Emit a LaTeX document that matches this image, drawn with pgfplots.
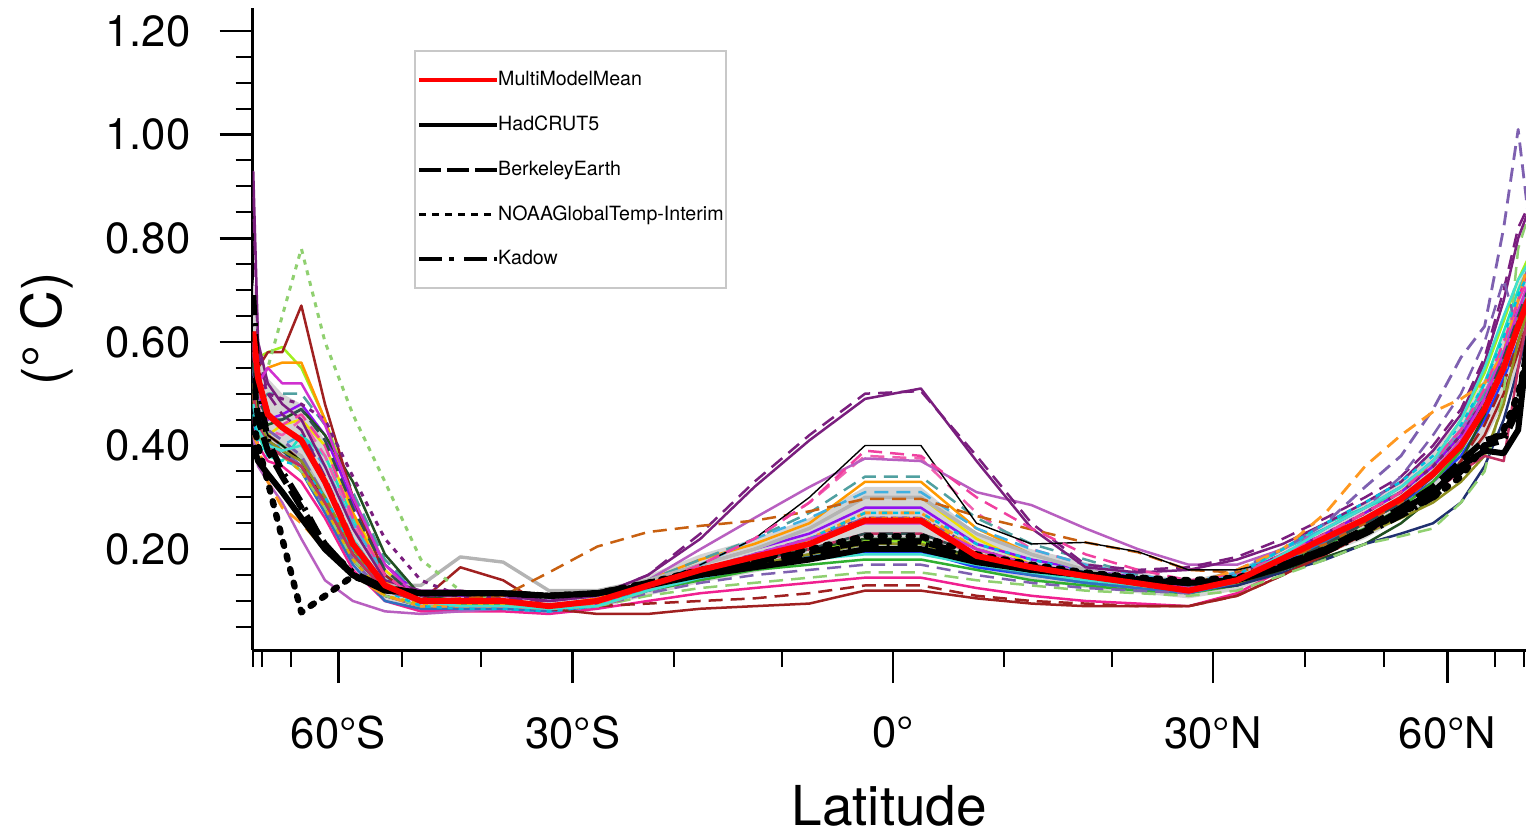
\documentclass[border=0pt]{standalone}
\usepackage{fontspec}
\setmainfont{TeX Gyre Heros}
\usepackage{pgfplots}
\usepackage{pgfplotstable}
\pgfplotsset{compat=1.18}
\usepgfplotslibrary{fillbetween}

\definecolor{c01}{HTML}{1E3CFF}
\definecolor{c02}{HTML}{20E0C0}
\definecolor{c03}{HTML}{A0F020}
\definecolor{c04}{HTML}{F0E000}
\definecolor{c05}{HTML}{FF9900}
\definecolor{c06}{HTML}{F02090}
\definecolor{c07}{HTML}{F060B0}
\definecolor{c08}{HTML}{B85FC0}
\definecolor{c09}{HTML}{9010F0}
\definecolor{c10}{HTML}{50A0A0}
\definecolor{c11}{HTML}{B4B4B4}
\definecolor{c12}{HTML}{40B0E0}
\definecolor{c13}{HTML}{30B030}
\definecolor{c14}{HTML}{205020}
\definecolor{c15}{HTML}{203070}
\definecolor{c16}{HTML}{3070C0}
\definecolor{c17}{HTML}{A02020}
\definecolor{c19}{HTML}{90D070}
\definecolor{c21}{HTML}{7A1E7E}
\definecolor{c24}{HTML}{7E60B0}
\definecolor{c26}{HTML}{C86010}
\definecolor{c27}{HTML}{FF9820}
\definecolor{c29}{HTML}{F040A0}
\definecolor{c30}{HTML}{E0B000}
\definecolor{c31}{HTML}{909020}
\definecolor{c32}{HTML}{00C0E0}
\definecolor{c33}{HTML}{C03060}
\definecolor{c34}{HTML}{D030D0}
\definecolor{c35}{HTML}{40E0D0}
\definecolor{c36}{HTML}{2F4F4F}
\definecolor{legbox}{HTML}{C8C8C8}

% rows = series, columns = latitude (5 degree bands)
\pgfplotstableread{
name -87.5 -82.5 -77.5 -72.5 -67.5 -62.5 -57.5 -52.5 -47.5 -42.5 -37.5 -32.5 -27.5 -22.5 -17.5 -12.5 -7.5 -2.5 2.5 7.5 12.5 17.5 22.5 27.5 32.5 37.5 42.5 47.5 52.5 57.5 62.5 67.5 72.5 77.5 82.5 87.5
lo   .52 .45 .40 .38 .35 .27  .17 .10 .085 .085 .085 .08  .085 .11 .135 .155 .175 .20  .20 .16 .14 .125 .115 .105  .12 .16 .19 .22 .26 .30  .35 .41 .48 .55 .60 .62
hi   .72 .61 .53 .50 .48 .41  .27 .16 .12 .12 .115 .105  .115 .15 .19 .22 .26 .32  .32 .23 .20 .175 .155 .14  .16 .205 .25 .29 .335 .39  .45 .53 .62 .71 .76 .78
}\bandraw
\pgfplotstableread{
name -87.5 -82.5 -77.5 -72.5 -67.5 -62.5 -57.5 -52.5 -47.5 -42.5 -37.5 -32.5 -27.5 -22.5 -17.5 -12.5 -7.5 -2.5 2.5 7.5 12.5 17.5 22.5 27.5 32.5 37.5 42.5 47.5 52.5 57.5 62.5 67.5 72.5 77.5 82.5 87.5
mmm  .62 .53 .46 .435 .41 .33  .21 .13 .10 .10 .10 .09  .10 .13 .16 .185 .21 .255  .255 .187 .165 .148 .134 .12  .14 .182 .222 .258 .297 .345  .40 .47 .55 .63 .68 .70
had  .40 .37 .345 .31 .26 .20  .15 .12 .115 .115 .115 .11  .115 .13 .15 .165 .18 .20  .20 .175 .16 .15 .14 .135  .14 .165 .195 .235 .275 .31  .36 .39 .385 .43 .60 .65
ber  .53 .45 .39 .34 .28 .21  .15 .125 .115 .115 .115 .11  .115 .135 .155 .175 .195 .215  .215 .185 .165 .152 .142 .135  .142 .17 .20 .24 .28 .32  .37 .41 .42 .48 .60 .66
noa  .45 .40 .33 .22 .078 .11  .148 .125 .115 .115 .115 .11  .115 .135 .16 .18 .20 .225  .225 .19 .17 .155 .145 .14  .145 .17 .20 .235 .27 .30  .34 .40 .43 .50 .58 .62
kad  .69 .52 .41 .35 .29 .206  .155 .125 .115 .115 .115 .11  .115 .13 .155 .17 .19 .21  .21 .18 .16 .15 .14 .135  .14 .165 .195 .23 .265 .30  .35 .40 .41 .47 .58 .60
}\obsraw
\pgfplotstableread{
name -87.5 -82.5 -77.5 -72.5 -67.5 -62.5 -57.5 -52.5 -47.5 -42.5 -37.5 -32.5 -27.5 -22.5 -17.5 -12.5 -7.5 -2.5 2.5 7.5 12.5 17.5 22.5 27.5 32.5 37.5 42.5 47.5 52.5 57.5 62.5 67.5 72.5 77.5 82.5 87.5
m01 .55 .45 .40 .38 .36 .28  .18 .11 .09 .09 .09 .085  .095 .12 .145 .165 .18 .195  .195 .165 .15 .135 .125 .115  .135 .175 .215 .25 .29 .33  .38 .45 .53 .60 .66 .68
m02 .50 .42 .38 .37 .42 .38  .26 .15 .10 .095 .095 .09  .10 .125 .15 .17 .185 .20  .20 .18 .16 .145 .135 .13  .15 .20 .25 .28 .31 .36  .43 .52 .62 .70 .74 .75
m03 .58 .57 .58 .59 .55 .45  .30 .17 .11 .10 .10 .09  .10 .13 .16 .18 .20 .215  .215 .18 .16 .145 .135 .125  .145 .19 .23 .27 .31 .37  .45 .54 .64 .72 .76 .78
m04 .52 .46 .42 .44 .45 .40  .27 .16 .10 .10 .10 .09  .10 .135 .17 .20 .24 .30  .30 .22 .17 .15 .13 .12  .14 .18 .22 .26 .30 .35  .41 .48 .56 .63 .68 .70
m05 .48 .52 .55 .56 .56 .45  .27 .14 .10 .095 .10 .09  .105 .14 .18 .21 .25 .33  .33 .24 .19 .16 .14 .13  .15 .19 .23 .27 .31 .36  .42 .49 .57 .65 .70 .72
m06 .45 .40 .37 .36 .33 .26  .16 .10 .08 .08 .08 .075  .085 .10 .115 .125 .135 .145  .145 .125 .11 .10 .095 .09  .115 .16 .20 .24 .28 .33  .39 .48 .58 .68 .74 .76
m07 .58 .48 .43 .42 .45 .38  .25 .14 .09 .09 .09 .085  .095 .13 .17 .22 .29 .38  .375 .27 .20 .17 .15 .13  .15 .19 .23 .27 .31 .36  .42 .50 .58 .65 .70 .72
m08 .42 .36 .33 .29 .22 .14  .10 .08 .075 .08 .085 .085  .10 .14 .20 .26 .32 .375  .37 .31 .285 .24 .20 .17  .17 .20 .24 .28 .32 .37  .43 .50 .58 .66 .70 .72
m09 .60 .50 .45 .46 .48 .42  .29 .17 .11 .11 .11 .10  .11 .14 .17 .20 .23 .28  .28 .21 .18 .16 .145 .13  .15 .19 .23 .27 .31 .36  .42 .49 .57 .64 .69 .71
m10 .55 .48 .50 .50 .50 .44  .31 .18 .11 .10 .10 .09  .10 .14 .18 .22 .27 .34  .34 .26 .21 .18 .15 .135  .15 .20 .24 .28 .32 .37  .43 .50 .58 .65 .70 .72
m11 .50 .45 .42 .40 .38 .30  .20 .13 .13 .185 .175 .12  .12 .14 .17 .20 .24 .30  .30 .23 .19 .16 .14 .13  .15 .185 .22 .26 .30 .35  .40 .47 .55 .62 .67 .69
m12 .48 .42 .40 .40 .42 .36  .25 .15 .09 .085 .085 .08  .09 .13 .17 .22 .26 .31  .31 .24 .20 .17 .15 .135  .155 .20 .24 .28 .32 .37  .43 .51 .59 .66 .70 .72
m13 .56 .47 .42 .40 .37 .30  .19 .12 .10 .095 .095 .09  .10 .12 .14 .16 .17 .18  .18 .16 .14 .13 .12 .115  .13 .17 .21 .24 .28 .33  .39 .47 .56 .64 .69 .71
m14 .52 .47 .44 .45 .47 .42  .33 .19 .11 .10 .10 .09  .10 .13 .16 .18 .20 .22  .22 .18 .16 .14 .13 .12  .13 .16 .185 .21 .25 .30  .37 .46 .56 .64 .69 .71
m15 .47 .44 .41 .39 .36 .29  .19 .12 .10 .10 .10 .09  .10 .125 .15 .17 .19 .21  .21 .175 .155 .14 .13 .12  .13 .155 .18 .21 .23 .25  .29 .36 .45 .55 .62 .65
m16 .53 .46 .41 .38 .35 .27  .17 .10 .085 .085 .085 .08  .09 .12 .145 .165 .185 .20  .20 .17 .15 .135 .125 .115  .135 .175 .215 .25 .29 .34  .40 .48 .57 .64 .69 .71
m17 .62 .55 .58 .58 .67 .48  .30 .15 .10 .165 .14 .085  .075 .075 .085 .09 .095 .12  .12 .105 .095 .09 .09 .09  .11 .15 .19 .23 .27 .31  .36 .42 .50 .58 .64 .66
m18 .50 .45 .42 .40 .37 .29  .18 .11 .09 .09 .09 .085  .09 .095 .10 .105 .115 .13  .13 .11 .10 .095 .09 .09  .11 .15 .19 .23 .27 .31  .37 .44 .52 .60 .65 .67
m19 .50 .52 .55 .65 .78 .60  .46 .33 .18 .12 .10 .09  .10 .13 .15 .17 .19 .21  .21 .18 .16 .145 .13 .12  .14 .18 .22 .26 .30 .35  .41 .48 .56 .64 .69 .71
m20 .46 .42 .40 .38 .35 .28  .18 .11 .09 .09 .09 .085  .09 .11 .125 .135 .145 .155  .155 .14 .13 .12 .115 .11  .12 .15 .18 .21 .225 .24  .29 .35 .50 .78 .84 .85
m21 .93 .60 .52 .48 .45 .36  .24 .14 .12 .12 .11 .10  .11 .15 .22 .32 .41 .49  .51 .37 .24 .165 .155 .16  .18 .21 .25 .29 .33 .39  .46 .56 .68 .80 .85 .86
m22 .88 .58 .50 .46 .43 .34  .22 .13 .11 .11 .105 .10  .11 .15 .23 .33 .42 .50  .505 .38 .25 .17 .16 .165  .185 .22 .26 .30 .34 .40  .47 .57 .70 .82 .86 .87
m23 .60 .55 .50 .49 .48 .45  .34 .22 .14 .11 .10 .09  .10 .13 .16 .19 .22 .26  .26 .20 .17 .15 .14 .13  .15 .19 .23 .27 .31 .36  .42 .49 .57 .64 .69 .71
m24 .55 .47 .43 .41 .38 .30  .19 .12 .10 .10 .10 .09  .10 .13 .16 .19 .22 .26  .26 .20 .17 .15 .14 .13  .16 .20 .25 .32 .38 .47  .57 .63 .82 1.01 .85 .80
m25 .52 .45 .41 .39 .36 .28  .18 .11 .09 .09 .09 .085  .09 .115 .135 .15 .16 .17  .17 .15 .135 .125 .12 .115  .14 .19 .24 .28 .34 .42  .50 .60 .72 .62 .70 .72
m26 .50 .44 .40 .38 .36 .29  .19 .12 .10 .105 .11 .155  .205 .233 .245 .255 .273 .297  .297 .264 .238 .213 .194 .16  .155 .18 .21 .25 .29 .34  .40 .47 .55 .62 .67 .69
m27 .42 .40 .33 .28 .25 .20  .15 .11 .09 .09 .09 .085  .09 .12 .15 .18 .22 .27  .27 .20 .17 .15 .14 .13  .16 .20 .27 .36 .42 .465  .49 .52 .58 .68 .75 .76
m28 .55 .47 .42 .40 .37 .29  .19 .12 .10 .10 .10 .09  .10 .13 .17 .22 .30 .40  .40 .25 .21 .213 .195 .16  .16 .18 .22 .26 .30 .35  .41 .48 .56 .63 .68 .70
m29 .60 .50 .45 .44 .46 .40  .26 .15 .10 .09 .09 .085  .09 .13 .17 .22 .29 .39  .38 .30 .24 .19 .16 .14  .15 .19 .23 .27 .31 .37  .43 .51 .60 .68 .72 .74
m30 .50 .44 .40 .38 .35 .28  .18 .11 .095 .095 .095 .09  .095 .12 .15 .18 .21 .26  .26 .20 .17 .15 .135 .125  .145 .185 .22 .26 .30 .35  .41 .48 .56 .63 .68 .70
m31 .52 .45 .41 .39 .37 .30  .20 .12 .10 .10 .10 .09  .10 .125 .15 .17 .19 .21  .21 .18 .16 .145 .135 .125  .135 .165 .20 .23 .26 .29  .33 .38 .48 .60 .66 .68
m32 .46 .40 .38 .37 .36 .30  .20 .12 .09 .085 .085 .08  .09 .125 .16 .19 .22 .27  .27 .21 .18 .155 .14 .13  .15 .20 .25 .29 .33 .38  .44 .52 .61 .69 .73 .74
m33 .50 .44 .40 .38 .36 .29  .19 .12 .10 .10 .10 .09  .10 .125 .15 .175 .20 .23  .23 .19 .165 .15 .14 .13  .14 .17 .20 .23 .27 .31  .35 .38 .37 .55 .65 .68
m34 .58 .52 .55 .52 .52 .44  .30 .17 .10 .10 .10 .09  .10 .13 .16 .19 .22 .25  .25 .20 .17 .155 .14 .125  .14 .18 .22 .26 .30 .35  .41 .49 .58 .66 .71 .73
m35 .48 .43 .40 .39 .40 .33  .22 .13 .10 .09 .09 .085  .09 .12 .145 .165 .18 .19  .19 .17 .155 .14 .13 .12  .14 .19 .24 .28 .32 .37  .45 .55 .65 .72 .75 .76
m36 .56 .49 .45 .45 .47 .41  .28 .16 .10 .10 .10 .09  .10 .13 .16 .18 .20 .23  .23 .19 .17 .15 .14 .13  .14 .17 .21 .25 .29 .34  .40 .48 .57 .65 .70 .72
}\modelsraw

\pgfplotstabletranspose[colnames from=name, input colnames to=lat]{\band}{\bandraw}
\pgfplotstabletranspose[colnames from=name, input colnames to=lat]{\obs}{\obsraw}
\pgfplotstabletranspose[colnames from=name, input colnames to=lat]{\models}{\modelsraw}

\pgfplotsset{
  mdl/.style={line width=1.25pt, forget plot, line join=round},
  dsh/.style={dash pattern=on 7pt off 4pt},
  dtt/.style={dash pattern=on 2.5pt off 3pt},
}
\newcommand\mplot[2]{\addplot[mdl,#1] table[x expr={sin(\thisrow{lat})}, y=#2] {\models};}
\newcommand\oplot[2]{\addplot[forget plot, line join=round, #1] table[x expr={sin(\thisrow{lat})}, y=#2] {\obs};}

\begin{document}
\begin{tikzpicture}
\begin{axis}[
  name=ax,
  scale only axis,
  width=636.5pt, height=321.2pt,
  xmin=-1, xmax=0.9885, ymin=0.005, ymax=1.245,
  axis x line*=bottom, axis y line*=left,
  axis line style={line width=1.3pt, -},
  tick align=outside,
  major tick length=16.5pt, minor tick length=8.5pt,
  every tick/.style={black, line width=1.3pt},
  every minor tick/.style={black, line width=1pt},
  xtick={-0.866025,-0.5,0,0.5,0.866025},
  xticklabels={60°S,30°S,0°,30°N,60°N},
  minor xtick={-1,-0.984808,-0.939693,-0.766044,-0.642788,-0.342020,-0.173648,0.173648,0.342020,0.642788,0.766044,0.939693,0.984808},
  ytick={0.2,0.4,0.6,0.8,1.0,1.2},
  yticklabels={0.20,0.40,0.60,0.80,1.00,1.20},
  minor ytick={0.05,0.10,0.15,0.25,0.30,0.35,0.45,0.50,0.55,0.65,0.70,0.75,0.85,0.90,0.95,1.05,1.10,1.15},
  tick label style={font=\fontsize{21.8}{24}\selectfont},
  xticklabel style={yshift=-13pt},
  yticklabel style={xshift=-11pt},
  xlabel={Latitude},
  ylabel={(° C)},
  label style={font=\fontsize{27.5}{30}\selectfont},
  xlabel style={at={(rel axis cs:0.5,0)}, anchor=north, yshift=-64pt},
  ylabel style={at={(rel axis cs:0,0.5)}, anchor=center, yshift=103pt},
  legend style={at={(rel axis cs:0.1269,0.934)}, anchor=north west,
    draw=legbox, line width=1pt, fill=white,
    inner xsep=1pt, inner ysep=3.25pt, row sep=0pt,
    font=\fontsize{9.8}{11}\selectfont,
    nodes={inner sep=0pt, minimum height=22.4pt},
    /tikz/every even column/.append style={column sep=0pt}},
  legend cell align=left,
  legend image code/.code={\draw[#1] (0pt,0pt) -- (39pt,0pt);},
]
\addlegendimage{red, line width=2pt}
\addlegendentry{\hspace{-0.5pt}MultiModelMean}
\addlegendimage{black, line width=2pt}
\addlegendentry{\hspace{-0.5pt}HadCRUT5}
\addlegendimage{black, line width=2pt, dash pattern=on 11pt off 3pt}
\addlegendentry{\hspace{-0.5pt}BerkeleyEarth}
\addlegendimage{black, line width=1.5pt, dash pattern=on 3.5pt off 3pt}
\addlegendentry{\hspace{-0.5pt}NOAAGlobalTemp-Interim\hspace{4.5pt}}
\addlegendimage{black, line width=2pt, dash pattern=on 11.5pt off 3.5pt on 2.5pt off 5pt}
\addlegendentry{\hspace{-0.5pt}Kadow}

% spread band
\addplot[draw=none, name path=lo, forget plot] table[x expr={sin(\thisrow{lat})}, y=lo] {\band};
\addplot[draw=none, name path=hi, forget plot] table[x expr={sin(\thisrow{lat})}, y=hi] {\band};
\addplot[fill=black!17, draw=none, forget plot] fill between[of=hi and lo];

% models
\mplot{c01}{m01}
\mplot{c02}{m02}
\mplot{c03}{m03}
\mplot{c04}{m04}
\mplot{c05}{m05}
\mplot{c06}{m06}
\mplot{c07,dsh}{m07}
\mplot{c08}{m08}
\mplot{c09}{m09}
\mplot{c10,dsh}{m10}
\mplot{c11,line width=1.7pt}{m11}
\mplot{c12,dsh}{m12}
\mplot{c13}{m13}
\mplot{c14}{m14}
\mplot{c15}{m15}
\mplot{c16}{m16}
\mplot{c17}{m17}
\mplot{c17,dsh}{m18}
\mplot{c19,dtt,line width=1.5pt}{m19}
\mplot{c19,dsh}{m20}
\mplot{c21}{m21}
\mplot{c21,dsh}{m22}
\mplot{c21,dtt,line width=1.5pt}{m23}
\mplot{c24,dsh,line width=1.4pt}{m24}
\mplot{c24,dsh}{m25}
\mplot{c26,dsh}{m26}
\mplot{c27,dsh,line width=1.4pt}{m27}
\mplot{black,line width=0.7pt}{m28}
\mplot{c29,dsh}{m29}
\mplot{c30,dtt}{m30}
\mplot{c31}{m31}
\mplot{c32,dtt}{m32}
\mplot{c33}{m33}
\mplot{c34}{m34}
\mplot{c35}{m35}
\mplot{c36,dsh}{m36}

% observations
\oplot{black, line width=3pt}{had}
\oplot{black, line width=3pt, dash pattern=on 11pt off 4pt}{ber}
\oplot{black, line width=3.2pt, line cap=round, dash pattern=on 2pt off 5pt}{noa}
\oplot{black, line width=3pt, dash pattern=on 10pt off 4pt on 1.5pt off 4pt}{kad}
% multi-model mean
\oplot{red, line width=3pt}{mmm}
\end{axis}
\pgfresetboundingbox
\path[use as bounding box] ([xshift=-126.25pt,yshift=-93.5pt]ax.south west) rectangle ([yshift=3.8pt]ax.north east);
\end{tikzpicture}
\end{document}
